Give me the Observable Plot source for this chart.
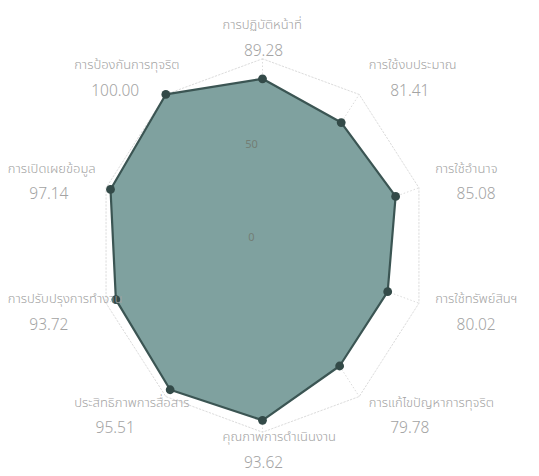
<!DOCTYPE html>
<html>
<head>
<meta charset="utf-8">
<script src="https://cdn.jsdelivr.net/npm/d3@7"></script>
<script src="https://cdn.jsdelivr.net/npm/@observablehq/plot@0.6"></script>
<style>
  html, body { margin: 0; padding: 0; background: #fff; }
  #chart { width: 539px; height: 476px; }
</style>
</head>
<body>
<div id="chart"></div>
<script>
// ---- data ----
const categories = [
  "การปฏิบัติหน้าที่",
  "การใช้งบประมาณ",
  "การใช้อำนาจ",
  "การใช้ทรัพย์สินฯ",
  "การแก้ไขปัญหาการทุจริต",
  "คุณภาพการดำเนินงาน",
  "ประสิทธิภาพการสื่อสาร",
  "การปรับปรุงการทำงาน",
  "การเปิดเผยข้อมูล",
  "การป้องกันการทุจริต"
];
const values = [89.28, 81.41, 85.08, 80.02, 79.78, 93.62, 95.51, 93.72, 97.14, 100.00];
const ringValues = [50, 100];
const tickLabels = ["0", "50"];
const tickValues = [0, 50];

// ---- layout ----
const W = 539, H = 476;
const cxPx = 262, cyPx = 245;
const kx = 1.645, ky = 1.867; // pixels per unit
const n = categories.length;
const angle = i => (2 * Math.PI * i) / n;

const pts = values.map((v, i) => ({
  name: categories[i],
  value: v,
  x: Math.sin(angle(i)) * v,
  y: Math.cos(angle(i)) * v
}));

const rings = ringValues.flatMap(r =>
  categories.map((c, i) => ({ ring: r, x: Math.sin(angle(i)) * r, y: Math.cos(angle(i)) * r }))
);
const spokes = categories.map((c, i) => ({
  x2: Math.sin(angle(i)) * 100, y2: Math.cos(angle(i)) * 100
}));

const LR = 111;
const labels = categories.map((c, i) => {
  const s = Math.sin(angle(i)), co = Math.cos(angle(i));
  const shift = s > 0.1 ? 24.3 : s < -0.1 ? -24.3 : 0.6;
  let y = co * LR;
  if (co < -0.1 && co > -0.9) y -= 1.2;
  if (co <= -0.9) y = co * 109.5;
  return { name: c, value: values[i].toFixed(2), x: s * LR + shift, y };
});

const ticks = tickValues.map((t, i) => ({ label: tickLabels[i], x: 0, y: t }));

const font = "'Noto Sans Thai', 'Noto Sans', Lato, sans-serif";

const chart = Plot.plot({
  width: W,
  height: H,
  margin: 0,
  style: { fontFamily: font, background: "#fff", overflow: "visible" },
  x: { domain: [-cxPx / kx, (W - cxPx) / kx], range: [0, W], axis: null },
  y: { domain: [-(H - cyPx) / ky, cyPx / ky], range: [H, 0], axis: null },
  marks: [
    Plot.line(rings, { x: "x", y: "y", z: "ring", curve: "linear-closed", stroke: "#dcdcdc", strokeWidth: 1, strokeDasharray: "1.5,2" }),
    Plot.link(spokes, { x1: 0, y1: 0, x2: "x2", y2: "y2", stroke: "#dcdcdc", strokeWidth: 1, strokeDasharray: "1.5,2" }),
    Plot.line(pts, { x: "x", y: "y", curve: "linear-closed", fill: "#7fa19f", fillOpacity: 1, stroke: "#3b5553", strokeWidth: 2.2 }),
    Plot.dot(pts, { x: "x", y: "y", r: 4.4, fill: "#334a48", stroke: "none" }),
    Plot.text(ticks, { x: "x", y: "y", text: "label", dx: -11, dy: -8, fill: "#6e6e62", fontSize: 11, fillOpacity: 0.7 }),
    Plot.text(labels, { x: "x", y: "y", text: "name", dx: -41, dy: -13, textAnchor: "start", fill: "#a3a3a3", fontSize: 13, fontWeight: 300 }),
    Plot.text(labels, { x: "x", y: "y", text: "value", dy: 13, fill: "#a3a3a3", fontSize: 15.5, fontWeight: 300 })
  ]
});
document.getElementById("chart").appendChild(chart);
</script>
</body>
</html>
